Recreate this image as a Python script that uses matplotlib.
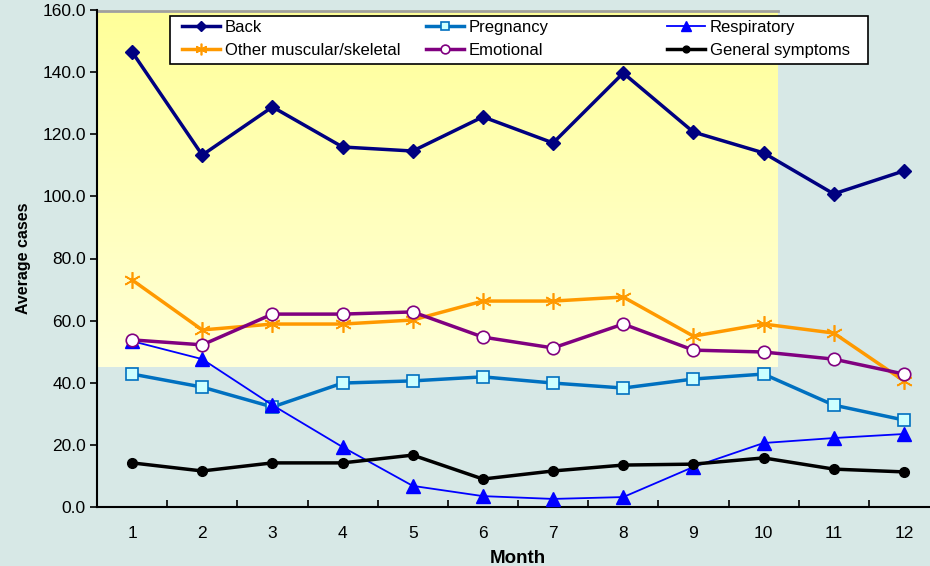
import numpy as np
import matplotlib
matplotlib.use("Agg")
import matplotlib.pyplot as plt
from matplotlib.patches import Rectangle

plt.rcParams['font.family'] = ['Liberation Sans', 'DejaVu Sans']

# Values of each series
months = [1, 2, 3, 4, 5, 6, 7, 8, 9, 10, 11, 12]
back = [146.5, 113.3, 128.8, 115.9, 114.6, 125.6, 117.2, 139.7, 120.7, 114.0, 100.8, 108.2]
pregnancy = [42.8, 38.6, 32.2, 39.9, 40.6, 41.9, 39.9, 38.3, 41.2, 42.8, 32.8, 28.0]
respiratory = [53.4, 47.6, 32.8, 19.3, 6.8, 3.5, 2.6, 3.2, 12.9, 20.6, 22.2, 23.5]
other_msk = [73.1, 57.0, 58.9, 58.9, 60.2, 66.3, 66.3, 67.6, 55.0, 58.9, 56.0, 40.6]
emotional = [53.8, 52.2, 62.1, 62.1, 62.8, 54.7, 51.2, 58.9, 50.5, 49.9, 47.6, 42.8]
general = [14.2, 11.6, 14.2, 14.2, 16.7, 9.0, 11.6, 13.5, 13.8, 15.8, 12.2, 11.3]

bg = '#d7e8e6'
fig = plt.figure(figsize=(9.3, 5.66), dpi=100, facecolor=bg)
ax = fig.add_axes([97 / 930, 59 / 566, 842 / 930, 497 / 566])
ax.set_facecolor(bg)

# yellow gradient band
grad = np.linspace(0, 1, 256).reshape(-1, 1)
cmap = matplotlib.colors.LinearSegmentedColormap.from_list('yl', ['#ffffd8', '#ffff99'])
ax.imshow(grad, extent=[0.5, 10.2, 45, 160], origin='lower', cmap=cmap,
          aspect='auto', zorder=0)
ax.plot([0.5, 10.2], [159.7, 159.7], color='#a0a0a0', lw=2, zorder=1, clip_on=False)

l_back, = ax.plot(months, back, color='#000080', lw=2.5, marker='D', ms=7.5, label='Back', zorder=5)
l_preg, = ax.plot(months, pregnancy, color='#0070c0', lw=2.5, marker='s', ms=9,
                  mfc='#ccffff', mec='#0070c0', mew=1.2, label='Pregnancy', zorder=4)
l_resp, = ax.plot(months, respiratory, color='#0000ff', lw=1.3, marker='^', ms=10,
                  label='Respiratory', zorder=4)
l_other, = ax.plot(months, other_msk, color='#ff9900', lw=2.5, marker=(6, 2, 0), ms=12, mew=1.2,
                   label='Other muscular/skeletal', zorder=3)
l_emo, = ax.plot(months, emotional, color='#800080', lw=2.5, marker='o', ms=9,
                 mfc='white', mec='#800080', mew=1.2, label='Emotional', zorder=4)
l_gen, = ax.plot(months, general, color='black', lw=2.5, marker='o', ms=7,
                 label='General symptoms', zorder=4)

ax.set_xlim(0.5, 12.5)
ax.set_ylim(0, 160)
ax.set_yticks(np.arange(0, 161, 20))
ax.set_yticklabels(['%.1f' % v for v in np.arange(0, 161, 20)], fontsize=12.5)
ax.set_xticks(months)
ax.set_xticklabels([str(m) for m in months], fontsize=12.5)
ax.set_xticks(np.arange(0.5, 12.6, 1), minor=True)
ax.tick_params(axis='x', which='major', length=0, pad=14)
ax.tick_params(axis='x', which='minor', length=5, direction='in', width=1.2)
ax.tick_params(axis='y', length=5, width=1.2, direction='out', pad=3)

for s in ['top', 'right']:
    ax.spines[s].set_visible(False)
ax.spines['left'].set_linewidth(1.5)
ax.spines['bottom'].set_linewidth(1.5)

ax.set_xlabel('Month', fontsize=13.5, fontweight='bold', labelpad=6)
ax.set_ylabel('Average cases', fontsize=11.5, fontweight='bold', labelpad=8)

# legend: white box with three equal-width columns
fig.patches.append(Rectangle((170 / 930, 1 - 64 / 566), 698 / 930, 48 / 566,
                             transform=fig.transFigure, facecolor='white',
                             edgecolor='black', lw=1.2, zorder=4))
columns = [(l_back, l_other), (l_preg, l_emo), (l_resp, l_gen)]
col_x = [182, 426, 667]
for (h1, h2), x in zip(columns, col_x):
    fig.legend([h1, h2], [h1.get_label(), h2.get_label()], loc='upper left',
               bbox_to_anchor=(x / 930, 1 - 20 / 566), frameon=False, fontsize=12,
               borderpad=0, borderaxespad=0, labelspacing=0.5, handlelength=2.3,
               handletextpad=0.25, markerscale=0.7)

fig.savefig('out.png', dpi=100, facecolor=bg)
